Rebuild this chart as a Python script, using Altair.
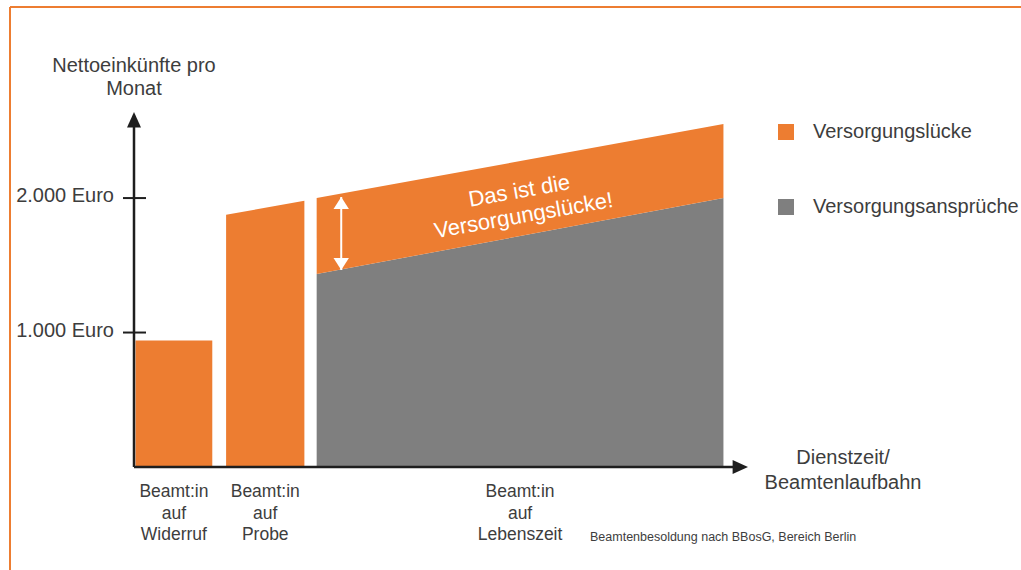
import altair as alt
import pandas as pd

# Career stages along the service-time axis (years of service)
stages = ["Beamt:in\nauf\nWiderruf", "Beamt:in\nauf\nProbe", "Beamt:in\nauf\nLebenszeit"]
stage_start = [0.1, 6.0, 11.9]
stage_end = [5.1, 11.1, 38.4]

# Net monthly income (Euro): top of the whole block at start / end of each stage
income_start = [940, 1875, 2000]
income_end = [940, 1980, 2550]
# Pension claims (Euro) at start / end of each stage
claim_start = [0, 0, 1435]
claim_end = [0, 0, 2000]

series = ["Versorgungslücke", "Versorgungsansprüche"]
series_colors = ["#ED7D31", "#7F7F7F"]

y_ticks = [1000, 2000]
y_tick_labels = ["1.000 Euro", "2.000 Euro"]

x_max = 40
y_max = 2640

# White double arrow marking the gap in the last stage
gap_arrow_x = [13.5]
gap_arrow_low = [1465]
gap_arrow_high = [2008]

FONT = "Liberation Sans"
TEXT = "#3d3d3d"
INK = "#1e1e1e"
ORANGE = series_colors[0]

xs = alt.Scale(domain=[0, x_max], nice=False, zero=False)
ys = alt.Scale(domain=[0, y_max], nice=False, zero=False)

# ---- area polygons -------------------------------------------------------
rows = []
for i in range(len(stages)):
    if claim_start[i] > 0 or claim_end[i] > 0:
        rows += [
            dict(block=i, series=series[1], x=stage_start[i], lo=0, hi=claim_start[i]),
            dict(block=i, series=series[1], x=stage_end[i], lo=0, hi=claim_end[i]),
            dict(block=i, series=series[0], x=stage_start[i], lo=claim_start[i], hi=income_start[i]),
            dict(block=i, series=series[0], x=stage_end[i], lo=claim_end[i], hi=income_end[i]),
        ]
    else:
        rows += [
            dict(block=i, series=series[0], x=stage_start[i], lo=0, hi=income_start[i]),
            dict(block=i, series=series[0], x=stage_end[i], lo=0, hi=income_end[i]),
        ]
areas_df = pd.DataFrame(rows)
areas_df["grp"] = areas_df["block"].astype(str) + "-" + areas_df["series"]

areas = alt.Chart(areas_df).mark_area(opacity=1).encode(
    x=alt.X("x:Q", scale=xs, axis=None),
    y=alt.Y("hi:Q", scale=ys, axis=None, stack=None),
    y2="lo:Q",
    detail="grp:N",
    color=alt.Color(
        "series:N",
        scale=alt.Scale(domain=series, range=series_colors),
        legend=alt.Legend(
            orient="none", legendX=642, legendY=10, title=None,
            symbolType="square", symbolSize=256, symbolStrokeWidth=0,
            symbolOpacity=1, labelFont=FONT, labelFontSize=20,
            labelColor=TEXT, labelOffset=17, labelLimit=0,
            rowPadding=55, padding=0,
        ),
    ),
)

# ---- axes drawn as arrows -----------------------------------------------
axis_df = pd.DataFrame({"x0": [0, 0], "x1": [0, x_max - 0.5], "y0": [0, 0], "y1": [y_max - 60, 0]})
axis_lines = alt.Chart(axis_df).mark_rule(color=INK, strokeWidth=2.5).encode(
    x=alt.X("x0:Q", scale=xs), x2="x1:Q",
    y=alt.Y("y0:Q", scale=ys), y2="y1:Q",
)
up_head = alt.Chart(pd.DataFrame({"x": [0], "y": [y_max]})).mark_point(
    shape="M0,0L-0.5,1.1L0.5,1.1Z", size=784, filled=True, opacity=1, color=INK
).encode(x=alt.X("x:Q", scale=xs), y=alt.Y("y:Q", scale=ys))
right_head = alt.Chart(pd.DataFrame({"x": [x_max], "y": [0]})).mark_point(
    shape="M0,0L-1.1,-0.5L-1.1,0.5Z", size=784, filled=True, opacity=1, color=INK
).encode(x=alt.X("x:Q", scale=xs), y=alt.Y("y:Q", scale=ys))

ticks_df = pd.DataFrame({"v": y_ticks, "label": y_tick_labels})
tick_marks = alt.Chart(ticks_df).mark_rule(color=INK, strokeWidth=2).encode(
    x=alt.value(-11), x2=alt.value(12), y=alt.Y("v:Q", scale=ys)
)
tick_text = alt.Chart(ticks_df).mark_text(
    align="right", baseline="middle", font=FONT, fontSize=20, color=TEXT, dy=-2
).encode(x=alt.value(-20), y=alt.Y("v:Q", scale=ys), text="label:N")

# ---- stage labels under the x axis --------------------------------------
stage_df = pd.DataFrame({
    "label": stages,
    "mid": [(a + b) / 2 for a, b in zip(stage_start, stage_end)],
})
stage_text = alt.Chart(stage_df).mark_text(
    align="center", baseline="top", font=FONT, fontSize=17.5, color=TEXT,
    lineBreak="\n", lineHeight=21.5,
).encode(x=alt.X("mid:Q", scale=xs), y=alt.value(371), text="label:N")

# ---- gap annotation ------------------------------------------------------
arrow_df = pd.DataFrame({"x": gap_arrow_x, "lo": gap_arrow_low, "hi": gap_arrow_high})
arrow_shaft = alt.Chart(arrow_df).mark_rule(color="white", strokeWidth=2).encode(
    x=alt.X("x:Q", scale=xs), y=alt.Y("lo:Q", scale=ys), y2="hi:Q"
)
arrow_top = alt.Chart(arrow_df).mark_point(
    shape="M0,0L-0.55,0.85L0.55,0.85Z", size=784, filled=True, opacity=1, color="white"
).encode(x=alt.X("x:Q", scale=xs), y=alt.Y("hi:Q", scale=ys))
arrow_bottom = alt.Chart(arrow_df).mark_point(
    shape="M0,0L-0.55,-0.85L0.55,-0.85Z", size=784, filled=True, opacity=1, color="white"
).encode(x=alt.X("x:Q", scale=xs), y=alt.Y("lo:Q", scale=ys))

note_df = pd.DataFrame({"x": [25.1], "y": [2053], "t": ["Das ist die\nVersorgungslücke!"]})
gap_note = alt.Chart(note_df).mark_text(
    align="center", baseline="middle", angle=350, font=FONT, fontSize=22,
    color="white", lineBreak="\n", lineHeight=25,
).encode(x=alt.X("x:Q", scale=xs), y=alt.Y("y:Q", scale=ys), text="t:N")

# ---- titles and source ---------------------------------------------------
y_title = alt.Chart(pd.DataFrame({"t": ["Nettoeinkünfte pro\nMonat"]})).mark_text(
    align="center", baseline="middle", font=FONT, fontSize=20, color=TEXT,
    lineBreak="\n", lineHeight=23,
).encode(x=alt.value(0), y=alt.value(-46), text="t:N")
x_title = alt.Chart(pd.DataFrame({"t": ["Dienstzeit/\nBeamtenlaufbahn"]})).mark_text(
    align="center", baseline="middle", font=FONT, fontSize=20, color=TEXT,
    lineBreak="\n", lineHeight=25,
).encode(x=alt.value(709), y=alt.value(346), text="t:N")
source = alt.Chart(pd.DataFrame({"t": ["Beamtenbesoldung nach BBosG, Bereich Berlin"]})).mark_text(
    align="left", baseline="middle", font=FONT, fontSize=12.5, color=TEXT,
).encode(x=alt.value(456), y=alt.value(425), text="t:N")

# ---- orange frame around the slide ---------------------------------------
frame_left = alt.Chart(pd.DataFrame({"a": [0]})).mark_rule(color=ORANGE, strokeWidth=2).encode(
    x=alt.value(-124), y=alt.value(-105), y2=alt.value(470)
)
frame_top = alt.Chart(pd.DataFrame({"a": [0]})).mark_rule(color=ORANGE, strokeWidth=2).encode(
    x=alt.value(-124), x2=alt.value(900), y=alt.value(-105)
)

chart = alt.layer(
    frame_left, frame_top,
    areas, axis_lines, up_head, right_head,
    tick_marks, tick_text, stage_text,
    arrow_shaft, arrow_top, arrow_bottom, gap_note,
    y_title, x_title, source,
).properties(
    width=614, height=355,
    padding={"left": 134, "top": 112, "right": 273, "bottom": 103},
    autosize=alt.AutoSizeParams(type="none"),
    background="white",
).configure_view(stroke=None)

chart.save("out.html", embed_options={"renderer": "svg", "actions": False})
